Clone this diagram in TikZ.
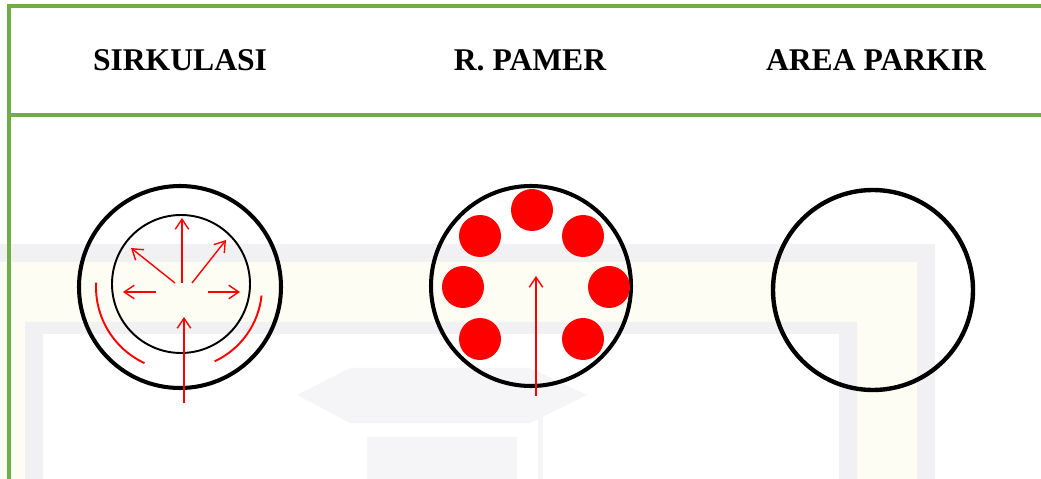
\documentclass[tikz,border=0pt]{standalone}
\usepackage{fontspec}
\setmainfont{Liberation Serif}
\usetikzlibrary{arrows.meta}

\definecolor{tablegreen}{RGB}{112,173,71}
\definecolor{markgrey}{RGB}{241,241,244}
\definecolor{markyellow}{RGB}{254,253,243}

\tikzset{
  heading/.style={font=\fontsize{18}{21}\selectfont\bfseries},
  ring/.style={line width=2.3pt},
  flow/.style={red, line width=0.8pt, -{Straight Barb[length=2mm,width=2.7mm]}},
  sweep/.style={red, line width=1.1pt},
  exhibit/.style={fill=red, draw=none},
}

\begin{document}
\begin{tikzpicture}[x=0.02cm, y=-0.02cm]

\useasboundingbox (0,0) rectangle (1041,479);
\fill[white] (0,0) rectangle (1041,479);

% faint watermark behind the table
\fill[markyellow] (0,262) rectangle (917,479);
\fill[white] (43,334) rectangle (839,479);
\fill[markgrey] (0,244) -- (935,244) -- (935,479) -- (917,479) -- (917,262) -- (0,262) -- cycle;
\fill[markgrey] (25,479) -- (25,322) -- (857,322) -- (857,479) -- (839,479)
  -- (839,334) -- (43,334) -- (43,479) -- cycle;
\fill[markgrey!70!white] (297,395) -- (350,368) -- (530,368) -- (587,395) -- (530,423) -- (350,423) -- cycle;
\fill[markgrey!70!white] (367,437) rectangle (517,479);
\fill[markgrey!70!white] (538,415) rectangle (543,479);

% table frame
\draw[tablegreen, line width=1.9pt] (1041,6) -- (9,6) -- (9,479);
\draw[tablegreen, line width=1.9pt] (9,115) -- (1041,115);

\node[heading] (sirkulasi) at (180,60) {SIRKULASI};
\node[heading] (pamer) at (530,60) {R. PAMER};
\node[heading] (parkir) at (876,60) {AREA PARKIR};

% sirkulasi
\draw[ring] (180,287) circle[radius=101];
\draw[line width=1.1pt] (181,284) circle[radius=69];
\draw[flow] (182,283) -- (182,218);
\draw[flow] (175,283) -- (131,248);
\draw[flow] (192,283) -- (226,240);
\draw[flow] (156,292) -- (123,292);
\draw[flow] (208,292) -- (240,292);
\draw[flow] (184,403) -- (184,317);
\draw[sweep] (180,287) ++(183:84) arc[start angle=183, end angle=115, radius=84];
\draw[sweep] (180,287) ++(6:82) arc[start angle=6, end angle=65, radius=82];

% r. pamer
\draw[ring] (531,286) circle[radius=100];
\foreach \px/\py in {532/210, 480/236, 583/236, 463/287, 609/287, 480/339, 583/339}
  \fill[exhibit] (\px,\py) circle[radius=21];
\draw[flow] (536,396) -- (536,276);

% area parkir
\draw[ring, line width=2.5pt] (873,290) circle[radius=100];

\end{tikzpicture}
\end{document}
